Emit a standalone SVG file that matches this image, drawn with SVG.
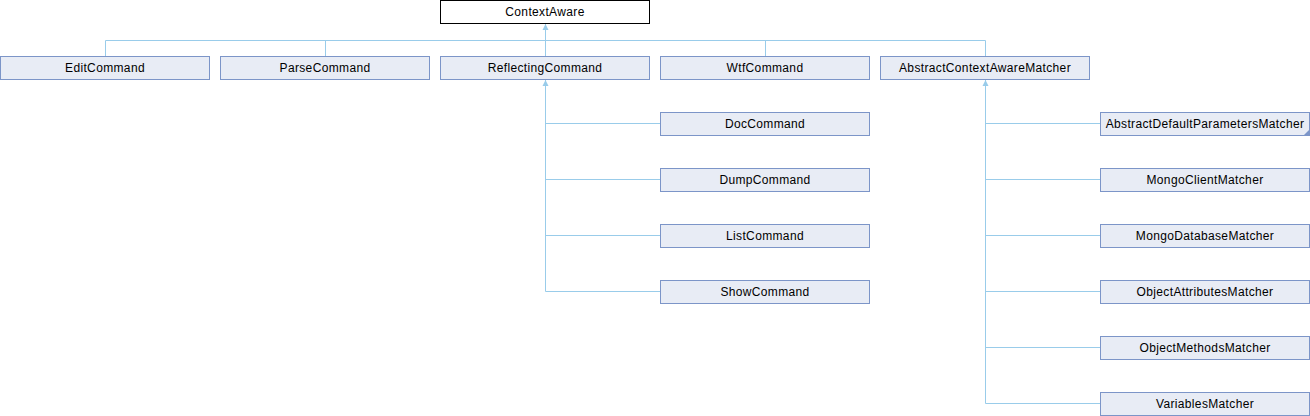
<svg xmlns="http://www.w3.org/2000/svg" width="1310" height="416" viewBox="0 0 1310 416">
<style>
.b rect{fill:#E8ECF5;stroke:#7C95C8;stroke-width:1}
.r rect{fill:#FFFFFF;stroke:#000000;stroke-width:1}
text{font-family:"Liberation Sans",Arial,sans-serif;font-size:12px;letter-spacing:0.35px;fill:#000;text-anchor:middle}
.c path{fill:none;stroke:#99CCEA;stroke-width:1}
.c path.a{fill:#99CCEA;stroke:none}
</style>
<rect width="1310" height="416" fill="#FFFFFF"/>
<g class="c" id="connectors">
<path d="M545.5,24V56M105.5,56V40.5H985.5V56M325.5,40.5V56M765.5,40.5V56"/>
<path d="M545.5,80V291.5H660M545.5,123.5H660M545.5,179.5H660M545.5,235.5H660"/>
<path d="M985.5,80V403.5H1100M985.5,123.5H1100M985.5,179.5H1100M985.5,235.5H1100M985.5,291.5H1100M985.5,347.5H1100"/>
<path class="a" d="M545.5,24L548.5,30H542.5Z"/>
<path class="a" d="M545.5,80L548.5,86H542.5Z"/>
<path class="a" d="M985.5,80L988.5,86H982.5Z"/>
</g>
<g class="r" id="n0"><rect x="440.5" y="0.5" width="209" height="23"/><text x="545" y="16">ContextAware</text></g>
<g class="b" id="n1"><rect x="0.5" y="56.5" width="209" height="23"/><text x="105" y="72">EditCommand</text></g>
<g class="b" id="n2"><rect x="220.5" y="56.5" width="209" height="23"/><text x="325" y="72">ParseCommand</text></g>
<g class="b" id="n3"><rect x="440.5" y="56.5" width="209" height="23"/><text x="545" y="72">ReflectingCommand</text></g>
<g class="b" id="n4"><rect x="660.5" y="56.5" width="209" height="23"/><text x="765" y="72">WtfCommand</text></g>
<g class="b" id="n5"><rect x="880.5" y="56.5" width="209" height="23"/><text x="985" y="72">AbstractContextAwareMatcher</text></g>
<g class="b" id="n6"><rect x="660.5" y="112.5" width="209" height="23"/><text x="765" y="128">DocCommand</text></g>
<g class="b" id="n7"><rect x="660.5" y="168.5" width="209" height="23"/><text x="765" y="184">DumpCommand</text></g>
<g class="b" id="n8"><rect x="660.5" y="224.5" width="209" height="23"/><text x="765" y="240">ListCommand</text></g>
<g class="b" id="n9"><rect x="660.5" y="280.5" width="209" height="23"/><text x="765" y="296">ShowCommand</text></g>
<g class="b" id="n10"><rect x="1100.5" y="112.5" width="209" height="23"/><text x="1205" y="128">AbstractDefaultParametersMatcher</text><path d="M1309,130V135H1304Z" fill="#7C95C8"/></g>
<g class="b" id="n11"><rect x="1100.5" y="168.5" width="209" height="23"/><text x="1205" y="184">MongoClientMatcher</text></g>
<g class="b" id="n12"><rect x="1100.5" y="224.5" width="209" height="23"/><text x="1205" y="240">MongoDatabaseMatcher</text></g>
<g class="b" id="n13"><rect x="1100.5" y="280.5" width="209" height="23"/><text x="1205" y="296">ObjectAttributesMatcher</text></g>
<g class="b" id="n14"><rect x="1100.5" y="336.5" width="209" height="23"/><text x="1205" y="352">ObjectMethodsMatcher</text></g>
<g class="b" id="n15"><rect x="1100.5" y="392.5" width="209" height="23"/><text x="1205" y="408">VariablesMatcher</text></g>
</svg>
